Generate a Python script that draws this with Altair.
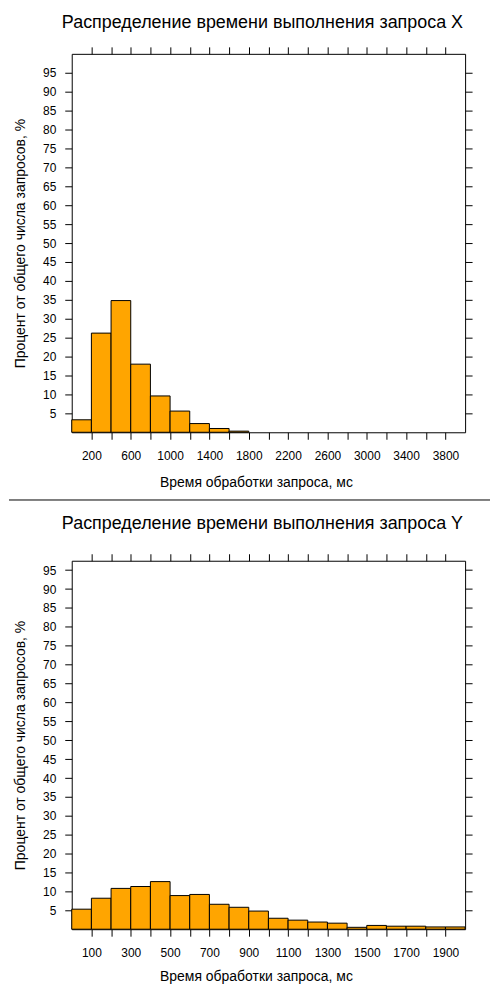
import altair as alt
import pandas as pd

top_title = "Распределение времени выполнения запроса X"
bottom_title = "Распределение времени выполнения запроса Y"
x_title = "Время обработки запроса, мс"
y_title = "Процент от общего числа запросов, %"

# Histogram X (bin width 200 ms)
top_bin_start = [0, 200, 400, 600, 800, 1000, 1200, 1400, 1600]
top_bin_end = [200, 400, 600, 800, 1000, 1200, 1400, 1600, 1800]
top_pct = [3.3, 26.2, 34.8, 18.0, 9.6, 5.6, 2.3, 1.0, 0.3]

# Histogram Y (bin width 100 ms)
bottom_bin_start = [0, 100, 200, 300, 400, 500, 600, 700, 800, 900,
                    1000, 1100, 1200, 1300, 1400, 1500, 1600, 1700, 1800, 1900]
bottom_bin_end = [100, 200, 300, 400, 500, 600, 700, 800, 900, 1000,
                  1100, 1200, 1300, 1400, 1500, 1600, 1700, 1800, 1900, 2000]
bottom_pct = [5.3, 8.2, 10.8, 11.3, 12.6, 8.9, 9.2, 6.6, 5.8, 4.8,
              2.9, 2.4, 1.9, 1.6, 0.5, 1.0, 0.8, 0.8, 0.6, 0.6]

y_ticks = [5, 10, 15, 20, 25, 30, 35, 40, 45, 50, 55, 60, 65, 70, 75, 80, 85, 90, 95]
top_x_ticks = [200, 400, 600, 800, 1000, 1200, 1400, 1600, 1800, 2000,
               2200, 2400, 2600, 2800, 3000, 3200, 3400, 3600, 3800]
top_x_labels = [200, 600, 1000, 1400, 1800, 2200, 2600, 3000, 3400, 3800]
bottom_x_ticks = [100, 200, 300, 400, 500, 600, 700, 800, 900, 1000,
                  1100, 1200, 1300, 1400, 1500, 1600, 1700, 1800, 1900]
bottom_x_labels = [100, 300, 500, 700, 900, 1100, 1300, 1500, 1700, 1900]

FONT = "Liberation Sans"
W = 395


def panel(start, end, pct, xmax, ymax, h, xticks, xlabels, title, title_offset, xtitle_y, sep):
    df = pd.DataFrame({"start": start, "end": end, "pct": pct})
    xs = alt.Scale(domain=[0, xmax], nice=False, zero=False)
    ys = alt.Scale(domain=[0, ymax], nice=False)
    label_expr = "indexof([" + ",".join(str(v) for v in xlabels) + "], datum.value) >= 0 ? datum.label : ''"
    bars = alt.Chart(df).mark_bar(color="#FFA500", stroke="black", strokeWidth=1).encode(
        x=alt.X("start:Q", scale=xs,
                axis=alt.Axis(orient="bottom", values=xticks, labelExpr=label_expr, format="d",
                              title=x_title, titleX=185, titleY=xtitle_y, titleBaseline="middle",
                              titleAlign="center", labelPadding=11, labelFlush=False,
                              labelOverlap=False)),
        x2="end:Q",
        y=alt.Y("pct:Q", scale=ys,
                axis=alt.Axis(orient="left", values=y_ticks, title=y_title, titleX=-51,
                              titleY=h / 2, titleBaseline="middle", titleAlign="center",
                              labelPadding=9, labelFlush=False, labelOverlap=False)),
        y2=alt.datum(0),
    )
    ghost = alt.Chart(df).mark_bar(opacity=0).encode(
        x=alt.X("start:Q", scale=xs,
                axis=alt.Axis(orient="top", values=xticks, labels=False, title=None)),
        x2="end:Q",
        y=alt.Y("pct:Q", scale=ys,
                axis=alt.Axis(orient="right", values=y_ticks, labels=False, title=None)),
        y2=alt.datum(0),
    )
    layers = [bars, ghost]
    if sep:
        rule = alt.Chart(pd.DataFrame({"v": [0]})).mark_rule(color="black", strokeWidth=1).encode(
            x=alt.value(-63), x2=alt.value(420), y=alt.value(448))
        layers.append(rule)
    return alt.layer(*layers).resolve_axis(x="independent", y="independent").properties(
        width=W, height=h,
        title=alt.TitleParams(title, fontSize=18, font=FONT, fontWeight="normal",
                              anchor="middle", dx=-6, offset=title_offset, color="black"),
    )


top = panel(top_bin_start, top_bin_end, top_pct, 4000, 100, 380, top_x_ticks, top_x_labels,
            top_title, 14, 50, True)
bottom = panel(bottom_bin_start, bottom_bin_end, bottom_pct, 2000, 97.5, 370, bottom_x_ticks,
               bottom_x_labels, bottom_title, 20, 48, False)

chart = alt.vconcat(top, bottom, spacing=129, bounds="flush").properties(
    padding={"left": 0, "top": 4, "right": 0, "bottom": 0}
).configure_view(stroke="black", strokeWidth=1).configure_axis(
    grid=False, domain=False, tickColor="black", tickSize=7, tickWidth=1,
    labelFont=FONT, labelFontSize=12, labelColor="black",
    titleFont=FONT, titleFontSize=14, titleFontWeight="normal", titleColor="black",
)

chart.save("out.html", embed_options={"renderer": "svg", "actions": False})
